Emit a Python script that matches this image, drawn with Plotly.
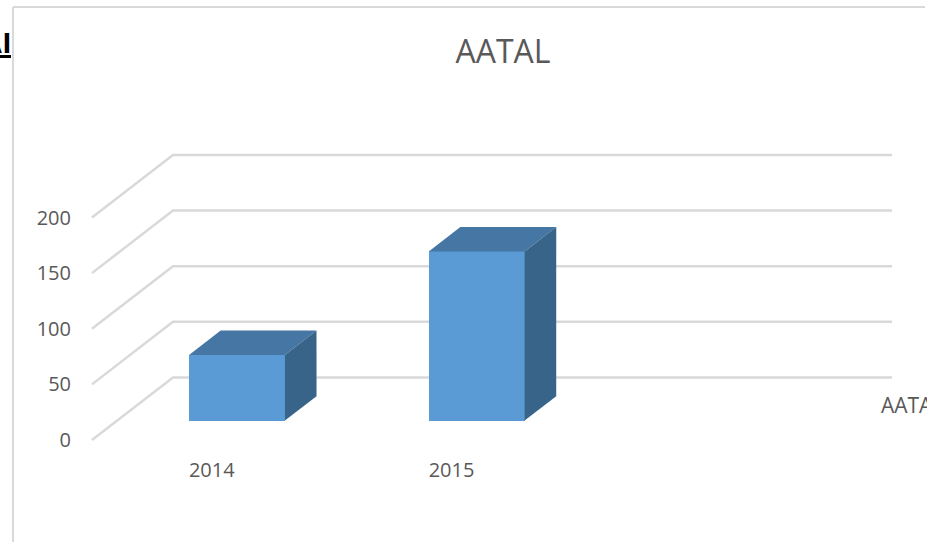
import plotly.graph_objects as go

# ---- data ----
categories = ["2014", "2015", ""]
values = [59, 152]
tick_vals = [0, 50, 100, 150, 200]
tick_text = ["0", "50", "100", "150", "200"]
title_text = "AATAL"
series_name = "AATAL"

# ---- pseudo-3D geometry (style constants, in axis units) ----
DX = 0.338      # floor depth, along x (category units)
DY = 56.2       # floor depth, along y (value units)
F0 = 0.311      # bar front plane as a fraction of depth
FD = 0.39       # bar depth as a fraction of depth
BW = 0.40       # bar width (category units)

GRID = "#d9d9d9"
FRONT = "#5b9bd5"
TOP = "#4676a3"
SIDE = "#386489"
TXT = "#595959"
FONT = "Open Sans"

W, H = 933, 542
ML, MB, MR = 80, 92, 6
PW, PH = W - ML - MR, H - MB

# axis scale: front-plane value v -> pixel 440 - 1.1125 v
SCALE = 1.1125
Y0PX = 440
y_lo = (Y0PX - PH) / SCALE
y_hi = Y0PX / SCALE
CW = 239.7
C0PX = 211.8
x_lo = (ML - C0PX) / CW
x_hi = (W - MR - C0PX) / CW

fig = go.Figure()

# front faces of the bars
xs = [i + F0 * DX for i in range(len(values))]
base = F0 * DY
fig.add_trace(go.Bar(
    x=xs, y=values, base=[base] * len(values), width=BW,
    marker=dict(color=FRONT, line=dict(width=0)), showlegend=False,
    hoverinfo="skip"))

# top and side faces
for xc, v in zip(xs, values):
    x0, x1 = xc - BW / 2, xc + BW / 2
    top = base + v
    ddx, ddy = FD * DX, FD * DY
    fig.add_trace(go.Scatter(
        x=[x0, x1, x1 + ddx, x0 + ddx, x0],
        y=[top, top, top + ddy, top + ddy, top],
        fill="toself", fillcolor=TOP, mode="lines", line=dict(width=0, color=TOP),
        showlegend=False, hoverinfo="skip"))
    fig.add_trace(go.Scatter(
        x=[x1, x1, x1 + ddx, x1 + ddx, x1],
        y=[base, top, top + ddy, base + ddy, base],
        fill="toself", fillcolor=SIDE, mode="lines", line=dict(width=0, color=SIDE),
        showlegend=False, hoverinfo="skip"))

# legend entry (clipped by the chart's right edge, as in the original)
fig.add_trace(go.Scatter(
    x=[(881 - C0PX) / CW], y=[(Y0PX - 408) / SCALE], mode="text",
    text=[series_name], textposition="middle right", cliponaxis=True,
    textfont=dict(size=21, color=TXT, family=FONT),
    showlegend=False, hoverinfo="skip"))

# gridlines: side wall diagonal + back wall horizontal
n = len(categories)
shapes = []
for v in tick_vals:
    xl, xr = -0.5, n - 0.5
    path = f"M {xl},{v} L {xl + DX},{v + DY} L {xr + DX},{v + DY}"
    shapes.append(dict(type="path", path=path, xref="x", yref="y", layer="below",
                       line=dict(color=GRID, width=2.5)))

# chart-area border (top and left edges visible)
def px_x(p):
    return (p - ML) / PW

def px_y(p):
    return 1 - p / PH

shapes.append(dict(type="line", xref="paper", yref="paper",
                   x0=px_x(13), y0=px_y(7), x1=px_x(925), y1=px_y(7),
                   line=dict(color=GRID, width=2)))
shapes.append(dict(type="line", xref="paper", yref="paper",
                   x0=px_x(13), y0=px_y(7), x1=px_x(13), y1=px_y(545),
                   line=dict(color=GRID, width=2)))

fig.update_layout(
    width=W, height=H,
    margin=dict(l=ML, r=MR, t=0, b=MB),
    paper_bgcolor="white", plot_bgcolor="white",
    font=dict(family=FONT, color=TXT, size=20),
    title=dict(text=title_text, x=(503) / W, xanchor="center",
               y=1 - 52 / H, yanchor="middle",
               font=dict(size=32, color=TXT, family=FONT)),
    xaxis=dict(range=[x_lo, x_hi], tickvals=[0, 1], ticktext=categories[:2],
               showgrid=False, zeroline=False, showline=False, ticks="",
               ticklabelstandoff=6, tickfont=dict(size=20, color=TXT)),
    yaxis=dict(range=[y_lo, y_hi], tickvals=tick_vals, ticktext=tick_text,
               showgrid=False, zeroline=False, showline=False, ticks="",
               ticklabelstandoff=8, tickfont=dict(size=20, color=TXT)),
    shapes=shapes,
    bargap=0,
    annotations=[
        dict(text="<b><u>AI</u></b>", xref="paper", yref="paper",
             x=px_x(13), y=px_y(42), xanchor="right", yanchor="middle",
             showarrow=False, font=dict(size=30, color="black",
                                        family="Liberation Sans")),
    ],
)

fig.write_html("out.html", config={"displayModeBar": False},
               post_script="document.body.style.margin='0';document.body.style.overflow='hidden';")
